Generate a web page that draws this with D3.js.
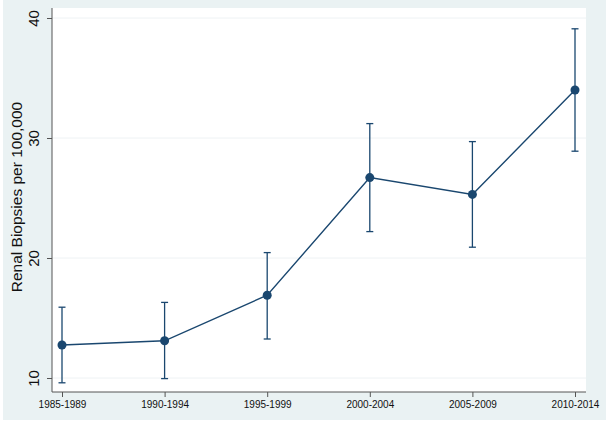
<!DOCTYPE html>
<html>
<head>
<meta charset="utf-8">
<script src="https://cdn.jsdelivr.net/npm/d3@7"></script>
<style>
  html, body { margin: 0; padding: 0; background: #ffffff; }
  svg { display: block; }
</style>
</head>
<body>
<svg id="chart" width="606" height="424"></svg>
<script>
const categories = ["1985-1989", "1990-1994", "1995-1999", "2000-2004", "2005-2009", "2010-2014"];
const means = [12.75, 13.1, 16.9, 26.7, 25.3, 34.0];
const lower = [9.6, 9.95, 13.25, 22.2, 20.9, 28.9];
const upper = [15.9, 16.3, 20.45, 31.2, 29.7, 39.1];
const yTicks = [10, 20, 30, 40];
const yTitle = "Renal Biopsies per 100,000";

const svg = d3.select("#chart");
const plot = { left: 52, right: 586, top: 8, bottom: 392 };
const navy = "#1a476f";
const font = "Liberation Sans, Arial, sans-serif";

// outer background
svg.append("rect").attr("x", 3).attr("y", 0).attr("width", 603).attr("height", 420).attr("fill", "#eaf2f3");
// plot region
svg.append("rect").attr("x", plot.left).attr("y", plot.top)
  .attr("width", plot.right - plot.left).attr("height", plot.bottom - plot.top).attr("fill", "#ffffff");

const x = d3.scalePoint().domain(categories).range([62, 575]);
const y = d3.scaleLinear().domain([10, 40]).range([378, 18]);

// gridlines
svg.append("g").selectAll("line").data(yTicks).join("line")
  .attr("x1", plot.left).attr("x2", plot.right)
  .attr("y1", d => y(d)).attr("y2", d => y(d))
  .attr("stroke", "#eef2f4").attr("stroke-width", 1);

// y axis
const yAxis = svg.append("g").attr("transform", `translate(${plot.left},0)`)
  .call(d3.axisLeft(y).tickValues(yTicks).tickSize(5).tickSizeOuter(0));
yAxis.select(".domain").attr("d", `M0,${plot.top}V${plot.bottom}`).attr("stroke", "#555");
yAxis.selectAll(".tick line").attr("stroke", "#555");
yAxis.selectAll(".tick text")
  .attr("font-family", font).attr("font-size", 15).attr("fill", "#111")
  .attr("text-anchor", "middle")
  .attr("x", 0).attr("y", 0).attr("dy", "0.35em")
  .attr("transform", "translate(-18,0) rotate(-90)");

// x axis
const xAxis = svg.append("g").attr("transform", `translate(0,${plot.bottom})`)
  .call(d3.axisBottom(x).tickSize(5).tickPadding(4).tickSizeOuter(0));
xAxis.select(".domain").attr("d", `M${plot.left},0H${plot.right}`).attr("stroke", "#555");
xAxis.selectAll(".tick line").attr("stroke", "#555");
xAxis.selectAll(".tick text")
  .attr("font-family", font).attr("font-size", 10).attr("fill", "#111");

// y title
svg.append("text")
  .attr("transform", `translate(17,${(plot.top + plot.bottom) / 2 - 3}) rotate(-90)`)
  .attr("text-anchor", "middle").attr("dy", "0.35em")
  .attr("font-family", font).attr("font-size", 15.5).attr("fill", "#111")
  .text(yTitle);

const data = categories.map((c, i) => ({ c, m: means[i], lo: lower[i], hi: upper[i] }));

// error bars
const eb = svg.append("g").attr("stroke", navy).attr("stroke-width", 1.3).attr("fill", "none");
eb.selectAll("line.v").data(data).join("line").attr("class", "v")
  .attr("x1", d => x(d.c)).attr("x2", d => x(d.c))
  .attr("y1", d => y(d.lo)).attr("y2", d => y(d.hi));
eb.selectAll("line.cl").data(data).join("line").attr("class", "cl")
  .attr("x1", d => x(d.c) - 3.5).attr("x2", d => x(d.c) + 3.5)
  .attr("y1", d => y(d.lo)).attr("y2", d => y(d.lo));
eb.selectAll("line.ch").data(data).join("line").attr("class", "ch")
  .attr("x1", d => x(d.c) - 3.5).attr("x2", d => x(d.c) + 3.5)
  .attr("y1", d => y(d.hi)).attr("y2", d => y(d.hi));

// connecting line
svg.append("path").datum(data)
  .attr("fill", "none").attr("stroke", navy).attr("stroke-width", 1.4)
  .attr("d", d3.line().x(d => x(d.c)).y(d => y(d.m)));

// markers
svg.append("g").selectAll("circle").data(data).join("circle")
  .attr("cx", d => x(d.c)).attr("cy", d => y(d.m)).attr("r", 4.5).attr("fill", navy);
</script>
</body>
</html>
